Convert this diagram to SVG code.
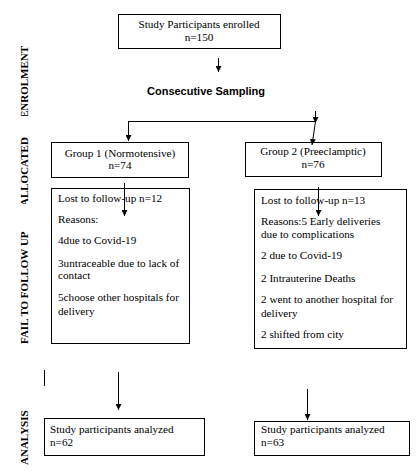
<svg xmlns="http://www.w3.org/2000/svg" width="417" height="472" viewBox="0 0 417 472">
<defs>
<style>
.box{fill:#fff;stroke:#000;stroke-width:1}
.t{font-size:11.2px;fill:#000}
.c{text-anchor:middle}
.side{font-size:11px;font-weight:bold;fill:#000}
.ln{stroke:#000;stroke-width:1;fill:none}
.ar{stroke:#000;stroke-width:1;fill:none;marker-end:url(#ah)}
</style>
<marker id="ah" viewBox="0 0 6 6" refX="6" refY="3" markerWidth="6" markerHeight="6" markerUnits="userSpaceOnUse" orient="auto">
<path d="M0,0 L6,3 L0,6 z" fill="#000"/>
</marker>
<clipPath id="clipE"><rect x="0" y="0" width="40" height="116"/></clipPath>
<clipPath id="clipA"><rect x="0" y="120" width="40" height="84"/></clipPath>
</defs>
<g font-family="Liberation Serif, Times New Roman, DejaVu Serif, serif">
<g id="side-labels">
<g clip-path="url(#clipE)"><text class="side" transform="translate(28,118) rotate(-90)">ENROLMENT</text></g>
<g clip-path="url(#clipA)"><text class="side" transform="translate(28,206) rotate(-90)">ALLOCATED</text></g>
<text class="side" transform="translate(28,344) rotate(-90)">FAIL TO FOLLOW UP</text>
<text class="side" transform="translate(28,465) rotate(-90)">ANALYSIS</text>
</g>
<g id="enrolled">
<rect class="box" x="118.5" y="14.5" width="162" height="34"/>
<text class="t c" x="199" y="28">Study Participants enrolled</text>
<text class="t c" x="199" y="41">n=150</text>
</g>
<g id="sampling">
<text x="206" y="95" text-anchor="middle" font-family="Liberation Sans, Arial, sans-serif" font-size="11" font-weight="bold">Consecutive Sampling</text>
</g>
<g id="group1">
<rect class="box" x="51.5" y="142.5" width="137" height="35"/>
<text class="t c" x="120" y="157">Group 1 (Normotensive)</text>
<text class="t c" x="120" y="169">n=74</text>
</g>
<g id="group2">
<rect class="box" x="245.5" y="142.5" width="136" height="34"/>
<text class="t c" x="313" y="155">Group 2 (Preeclamptic)</text>
<text class="t c" x="313" y="168">n=76</text>
</g>
<g id="lost1">
<rect class="box" x="51.5" y="188.5" width="138" height="155"/>
<text class="t" x="58" y="202">Lost to follow-up n=12</text>
<text class="t" x="58" y="223">Reasons:</text>
<text class="t" x="58" y="244">4due to Covid-19</text>
<text class="t" x="58" y="267">3untraceable due to lack of</text>
<text class="t" x="58" y="279">contact</text>
<text class="t" x="58" y="301">5choose other hospitals for</text>
<text class="t" x="58" y="315">delivery</text>
</g>
<g id="lost2">
<rect class="box" x="254.5" y="189.5" width="152" height="159"/>
<text class="t" x="261" y="204">Lost to follow-up n=13</text>
<text class="t" x="261" y="225">Reasons:5 Early deliveries</text>
<text class="t" x="261" y="238">due to complications</text>
<text class="t" x="261" y="259">2 due to Covid-19</text>
<text class="t" x="261" y="282">2 Intrauterine Deaths</text>
<text class="t" x="261" y="303">2 went to another hospital for</text>
<text class="t" x="261" y="317">delivery</text>
<text class="t" x="261" y="338">2 shifted from city</text>
</g>
<g id="analyzed1">
<rect class="box" x="44.5" y="418.5" width="160" height="37"/>
<text class="t" x="50" y="433">Study participants analyzed</text>
<text class="t" x="50" y="446">n=62</text>
</g>
<g id="analyzed2">
<rect class="box" x="254.5" y="421.5" width="155" height="34"/>
<text class="t" x="261" y="433">Study participants analyzed</text>
<text class="t" x="261" y="446">n=63</text>
</g>
</g>
<g id="connectors">
<line class="ar" x1="218.5" y1="58" x2="218.5" y2="72"/>
<line class="ln" x1="128" y1="121.5" x2="316" y2="121.5"/>
<line class="ar" x1="128.5" y1="121.5" x2="128.5" y2="141"/>
<line class="ar" x1="315.5" y1="111" x2="315.5" y2="123"/>
<line class="ar" x1="315.5" y1="121.5" x2="312" y2="145"/>
<line class="ar" x1="124.5" y1="183" x2="124.5" y2="216"/>
<line class="ar" x1="318.5" y1="187" x2="318.5" y2="216"/>
<line class="ln" x1="44.5" y1="370" x2="44.5" y2="386"/>
<line class="ar" x1="118.5" y1="372" x2="118.5" y2="410"/>
<line class="ar" x1="307.5" y1="389" x2="307.5" y2="420"/>
</g>
</svg>
